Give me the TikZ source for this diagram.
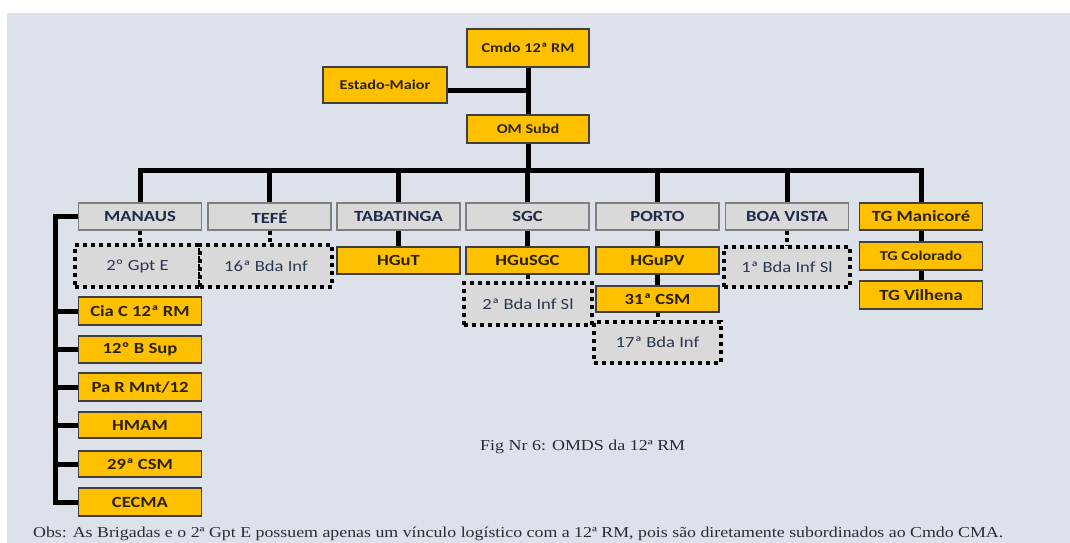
\documentclass[tikz,border=0pt]{standalone}
\usepackage{fontspec}
\setmainfont[FakeStretch=1.2]{Carlito}
\newfontfamily\capfont{Liberation Serif}
\definecolor{bgc}{HTML}{DDE2EA}
\definecolor{yel}{HTML}{FFC000}
\definecolor{ybd}{HTML}{404040}
\definecolor{ytxt}{HTML}{2A2200}
\definecolor{gfill}{HTML}{D9D9D9}
\definecolor{gbd}{HTML}{7F7F7F}
\definecolor{gtxt}{HTML}{1F2A4A}
\definecolor{dtxt}{HTML}{2C3752}
\definecolor{captxt}{HTML}{2B2B33}
\begin{document}
\begin{tikzpicture}[x=1pt,y=-1pt,
  ybox/.style={draw=ybd, line width=1.2pt, fill=yel, minimum width=123pt, minimum height=27pt,
    inner sep=0pt, text=ytxt, font=\fontsize{15.5}{16}\selectfont\bfseries},
  gbox/.style={draw=gbd, line width=1.5pt, fill=gfill, minimum width=123pt, minimum height=27pt,
    inner sep=0pt, text=gtxt, font=\fontsize{15.5}{16}\selectfont\bfseries},
  dbox/.style={draw=black, line width=4pt, dash pattern=on 4pt off 4pt, fill=gfill,
    minimum width=125pt, minimum height=42pt, inner sep=0pt, text=dtxt,
    font=\fontsize{15.5}{16}\selectfont},
  conn/.style={line width=5pt, draw=black},
  dconn/.style={line width=4pt, draw=black, dash pattern=on 4pt off 3pt}]
\useasboundingbox (0,0) rectangle (1070,543);
\fill[bgc] (7,13) rectangle (1070,543);

% top
\node[ybox, minimum width=122pt, minimum height=38pt, font=\fontsize{13.5}{14}\selectfont\bfseries] (cmdo) at (528,48) {Cmdo 12ª RM};
\node[ybox, minimum width=124pt, minimum height=36pt, font=\fontsize{13.5}{14}\selectfont\bfseries] (em) at (385,85) {Estado-Maior};
\node[ybox, minimum width=122pt, minimum height=28pt, font=\fontsize{13.5}{14}\selectfont\bfseries] (om) at (528,129) {OM Subd};

% gray row
\node[gbox] (manaus) at (140,216.5) {MANAUS};
\node[gbox] (tefe) at (269.5,216.5) {TEFÉ};
\node[gbox] (tabatinga) at (398.5,216.5) {TABATINGA};
\node[gbox] (sgc) at (527.5,216.5) {SGC};
\node[gbox] (porto) at (657.5,216.5) {PORTO};
\node[gbox] (boavista) at (787,216.5) {BOA VISTA};
\node[ybox] (tgm) at (921,216.5) {TG Manicoré};

% second row
\node[dbox] (gpt) at (137.5,266) {2º Gpt E};
\node[dbox, minimum width=132pt] (bda16) at (266,266) {16ª Bda Inf};
\node[ybox] (hgut) at (398.5,260.5) {HGuT};
\node[ybox] (hgusgc) at (527.5,260.5) {HGuSGC};
\node[dbox, minimum width=128pt] (bda2) at (528,304) {2ª Bda Inf Sl};
\node[ybox] (hgupv) at (657.5,260.5) {HGuPV};
\node[ybox, minimum height=26pt] (csm31) at (657.5,299) {31ª CSM};
\node[dbox, minimum width=127pt, minimum height=41pt] (bda17) at (657.5,342.5) {17ª Bda Inf};
\node[dbox, minimum width=126pt, minimum height=40pt] (bda1) at (787,267) {1ª Bda Inf Sl};
\node[ybox, minimum height=28pt, font=\fontsize{13.5}{14}\selectfont\bfseries] (tgc) at (921,256) {TG Colorado};
\node[ybox, minimum height=28pt] (tgv) at (921,295) {TG Vilhena};

% left column
\node[ybox, minimum height=28pt] (cia) at (140,311) {Cia C 12ª RM};
\node[ybox] (bsup) at (140,349.5) {12º B Sup};
\node[ybox, minimum height=28pt] (pa) at (140,387) {Pa R Mnt/12};
\node[ybox, minimum height=26pt] (hmam) at (140,425) {HMAM};
\node[ybox, minimum height=26pt] (csm29) at (140,464) {29ª CSM};
\node[ybox, minimum height=28pt] (cecma) at (140,502) {CECMA};

% connectors
\coordinate (bus) at (528,170);
\coordinate (lx) at (55,0);
\draw[conn] (cmdo.south) -- (om.north);
\draw[conn] ([yshift=-5pt]em.east) -- ([yshift=-5pt]em.east -| cmdo.south);
\draw[conn] (om.south) -- (bus);
\draw[conn] (manaus.north) -- (manaus.north |- bus) -- (tgm.north |- bus) -- (tgm.north);
\foreach \n in {tefe,tabatinga,sgc,porto,boavista}{
  \draw[conn] (\n.north |- bus) -- (\n.north);
}
\draw[conn] (tabatinga.south) -- (hgut.north);
\draw[conn] (sgc.south) -- (hgusgc.north);
\draw[conn] (porto.south) -- (hgupv.north);
\draw[conn] (hgupv.south) -- (csm31.north);
\draw[conn] (tgm.south) -- (tgc.north);
\draw[conn] (tgc.south) -- (tgv.north);
\draw[dconn] (manaus.south) -- (manaus.south |- gpt.north);
\draw[dconn] (tefe.south) -- (tefe.south |- bda16.north);
\draw[dconn] (hgusgc.south) -- (hgusgc.south |- bda2.north);
\draw[dconn] (csm31.south) -- (csm31.south |- bda17.north);
\draw[dconn] (boavista.south) -- (bda1.north);
\draw[conn] (manaus.west) -- (manaus.west -| lx) -- (cecma.west -| lx) -- (cecma.west);
\foreach \n in {cia,bsup,pa,hmam,csm29}{
  \draw[conn] (\n.west -| lx) -- (\n.west);
}

% captions
\node[anchor=base west, inner sep=0pt, text=captxt] (fig) at (480,450)
  {\resizebox{205pt}{10.5pt}{\capfont Fig Nr 6: OMDS da 12ª RM}};
\node[anchor=base west, inner sep=0pt, text=captxt] (obs) at (33,537)
  {\resizebox{970pt}{10.5pt}{\capfont Obs: As Brigadas e o 2ª Gpt E possuem apenas um vínculo logístico com a 12ª RM, pois são diretamente subordinados ao Cmdo CMA.}};
\end{tikzpicture}
\end{document}
